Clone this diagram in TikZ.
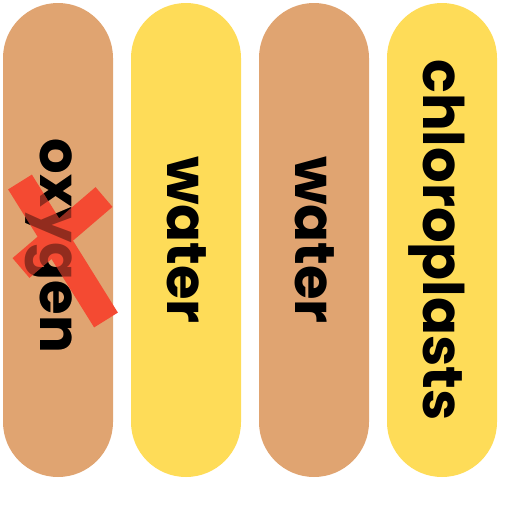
\documentclass[tikz,border=0pt]{standalone}
\usepackage{fontspec}
\setmainfont{Poppins}
\definecolor{tan}{HTML}{E0A471}
\definecolor{yel}{HTML}{FEDC58}
\definecolor{xred}{HTML}{F44A32}
\begin{document}
\begin{tikzpicture}[x=1pt,y=-1pt,
  pill/.style={rounded corners=55pt},
  lbl/.style={anchor=base,rotate=-90,inner sep=0pt,font=\fontsize{56}{56}\selectfont\bfseries},
  xstroke/.style={line width=28pt,draw=xred}]
\useasboundingbox (0,0) rectangle (512,512);
\fill[tan,pill] (3,3) rectangle (113,477);
\fill[yel,pill] (131,3) rectangle (241,477);
\fill[tan,pill] (259,3) rectangle (369,477);
\fill[yel,pill] (387,3) rectangle (497,477);
\node[lbl] (t1) at (40,246) {oxygen};
\node[lbl] (t2) at (167,240) {water};
\node[lbl] (t3) at (295,240) {water};
\node[lbl] (t4) at (423,240) {chloroplasts};
\coordinate (a1) at (20,182);
\coordinate (a2) at (106,320);
\coordinate (b1) at (104,197);
\coordinate (b2) at (21,268);
\draw[xstroke] (a1) -- (a2);
\draw[xstroke,line width=26pt] (b1) -- (b2);
\node[lbl,opacity=0.4] (t1b) at (40,246) {oxygen};
\end{tikzpicture}
\end{document}
